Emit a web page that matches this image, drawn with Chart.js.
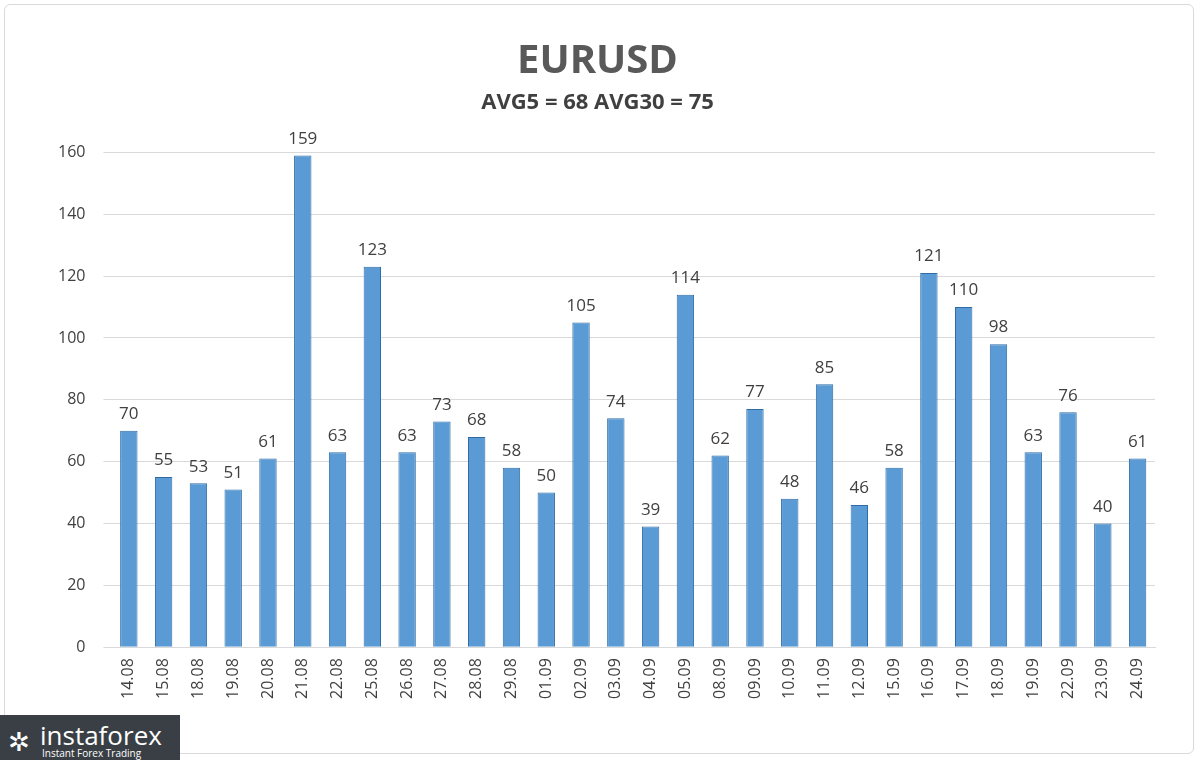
<!DOCTYPE html>
<html>
<head>
<meta charset="utf-8">
<script src="https://cdn.jsdelivr.net/npm/chart.js@4/dist/chart.umd.min.js"></script>
<style>
  html, body { margin: 0; padding: 0; background: #fff; }
  #wrap { position: relative; width: 1200px; height: 760px; }
  #frame { position: absolute; left: 4px; top: 4px; width: 1190px; height: 750px; border: 1px solid #d9d9d9; border-radius: 6px; box-sizing: border-box; }
  #chart { position: absolute; left: 0; top: 0; }
  #logo { position: absolute; left: 0; top: 715px; width: 180px; height: 45px; background: #3a3f45; color: #fff; font-family: "Open Sans", sans-serif; }
  #logo .big { position: absolute; left: 40px; top: 2px; font-size: 26px; }
  #logo .small { position: absolute; left: 42px; top: 31px; font-size: 10px; }
  #logo .ico { position: absolute; left: 8px; top: 8px; font-size: 26px; }
</style>
</head>
<body>
<div id="wrap">
  <div id="frame"></div>
  <canvas id="chart" width="1200" height="760"></canvas>
  <div id="logo"><span class="ico">✲</span><span class="big">instaforex</span><span class="small">Instant Forex Trading</span></div>
</div>
<script>
/* =========================
   DATA
========================= */
const labels = ['14.08','15.08','18.08','19.08','20.08','21.08','22.08','25.08','26.08','27.08','28.08','29.08','01.09','02.09','03.09','04.09','05.09','08.09','09.09','10.09','11.09','12.09','15.09','16.09','17.09','18.09','19.09','22.09','23.09','24.09'];
const values = [70,55,53,51,61,159,63,123,63,73,68,58,50,105,74,39,114,62,77,48,85,46,58,121,110,98,63,76,40,61];
const chartTitle = 'EURUSD';
const chartSubtitle = 'AVG5 = 68 AVG30 = 75';

/* =========================
   VALUE LABELS
========================= */
const valueLabels = {
  id: 'valueLabels',
  afterDatasetsDraw(chart) {
    const ctx = chart.ctx;
    const meta = chart.getDatasetMeta(0);
    ctx.save();
    ctx.font = '17px "Open Sans", sans-serif';
    ctx.fillStyle = '#404040';
    ctx.textAlign = 'center';
    ctx.textBaseline = 'bottom';
    meta.data.forEach((bar, i) => {
      ctx.fillText(values[i], bar.x, bar.y - 8);
    });
    ctx.restore();
  }
};

const ctx = document.getElementById('chart').getContext('2d');

new Chart(ctx, {
  type: 'bar',
  data: {
    labels: labels,
    datasets: [{
      data: values,
      backgroundColor(c) {
        const el = c.element;
        if (!el || !Number.isFinite(el.x)) return '#5b9bd5';
        const g = c.chart.ctx.createLinearGradient(el.x - 9, 0, el.x + 9, 0);
        g.addColorStop(0, '#8fbde8');
        g.addColorStop(0.5, '#5b9bd5');
        g.addColorStop(1, '#2e6eaa');
        return g;
      },
      borderColor: '#2f6ca6',
      borderWidth: 1,
      barPercentage: 0.5,
      categoryPercentage: 1
    }]
  },
  options: {
    responsive: false,
    animation: false,
    layout: { padding: { left: 40, right: 45, top: 18, bottom: 58 } },
    plugins: {
      legend: { display: false },
      tooltip: { enabled: false },
      title: {
        display: true, text: chartTitle, color: '#595959',
        font: { family: '"Open Sans", sans-serif', size: 40, weight: 'bold' },
        padding: { top: 20, bottom: 4 }
      },
      subtitle: {
        display: true, text: chartSubtitle, color: '#404040',
        font: { family: '"Open Sans", sans-serif', size: 22, weight: 'bold' },
        padding: { bottom: 36 }
      }
    },
    scales: {
      x: {
        grid: { display: false },
        border: { color: '#d9d9d9' },
        ticks: { color: '#404040', maxRotation: 90, minRotation: 90, font: { family: '"Open Sans", sans-serif', size: 16 } }
      },
      y: {
        min: 0, max: 160,
        grid: { color: '#d9d9d9' },
        border: { display: false },
        ticks: { stepSize: 20, color: '#404040', padding: 18, font: { family: '"Open Sans", sans-serif', size: 16 } }
      }
    }
  },
  plugins: [valueLabels]
});
</script>
</body>
</html>
